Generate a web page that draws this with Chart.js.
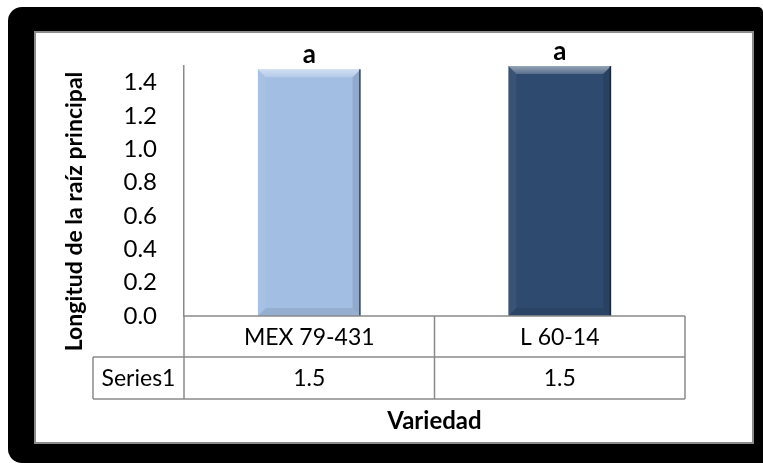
<!DOCTYPE html>
<html>
<head>
<meta charset="utf-8">
<script src="https://cdn.jsdelivr.net/npm/chart.js@4/dist/chart.umd.min.js"></script>
<style>
  html, body { margin: 0; padding: 0; background: #ffffff; }
  #wrap { width: 763px; height: 463px; }
</style>
</head>
<body>
<div id="wrap"><canvas id="chart" width="763" height="463"></canvas></div>
<script>
// Root length per sugarcane variety
const categories = ['MEX 79-431', 'L 60-14'];
const seriesName = 'Series1';
const values = [1.48, 1.5];
const letters = ['a', 'a'];
const yTicks = [0.0, 0.2, 0.4, 0.6, 0.8, 1.0, 1.2, 1.4];
const barColors = ['#a2bee3', '#2e4a6e'];
const yTitle = 'Longitud de la raíz principal';
const xTitle = 'Variedad';

const FONT = 'Lato, "Open Sans", sans-serif';
const LINE = '#8a8a8a';

// Black rounded frame with the white panel inside
const framePlugin = {
  id: 'frame',
  beforeDraw(chart) {
    const ctx = chart.ctx;
    ctx.save();
    ctx.fillStyle = '#ffffff';
    ctx.fillRect(0, 0, chart.width, chart.height);
    ctx.fillStyle = '#000000';
    ctx.beginPath();
    ctx.roundRect(8, 7, 755, 456, [14, 5, 0, 14]);
    ctx.fill();
    ctx.fillStyle = '#ffffff';
    ctx.fillRect(35, 32, 718, 411);
    ctx.strokeStyle = '#8c8c8c';
    ctx.lineWidth = 2;
    ctx.strokeRect(35, 32, 718, 411);
    ctx.restore();
  }
};

// Bevelled look on each bar, drawn over the bar rectangles
const bevelPlugin = {
  id: 'bevel',
  afterDatasetsDraw(chart) {
    const ctx = chart.ctx;
    const meta = chart.getDatasetMeta(0);
    meta.data.forEach((bar) => {
      const l = bar.x - bar.width / 2, r = bar.x + bar.width / 2;
      const t = bar.y, b = bar.base, s = 8;
      ctx.save();
      const g = ctx.createLinearGradient(0, t, 0, t + s);
      g.addColorStop(0, 'rgba(255,255,255,0.5)');
      g.addColorStop(1, 'rgba(255,255,255,0.2)');
      ctx.fillStyle = g;
      ctx.beginPath();
      ctx.moveTo(l, t); ctx.lineTo(r, t); ctx.lineTo(r - s, t + s); ctx.lineTo(l + s, t + s); ctx.closePath();
      ctx.fill();
      ctx.fillStyle = 'rgba(255,255,255,0.05)';
      ctx.beginPath();
      ctx.moveTo(l, t); ctx.lineTo(l + s, t + s); ctx.lineTo(l + s, b - s); ctx.lineTo(l, b); ctx.closePath();
      ctx.fill();
      ctx.fillStyle = 'rgba(0,0,0,0.1)';
      ctx.beginPath();
      ctx.moveTo(r, t); ctx.lineTo(r - s, t + s); ctx.lineTo(r - s, b - s); ctx.lineTo(r, b); ctx.closePath();
      ctx.fill();
      ctx.fillStyle = 'rgba(0,0,0,0.08)';
      ctx.beginPath();
      ctx.moveTo(l, b); ctx.lineTo(l + s, b - s); ctx.lineTo(r - s, b - s); ctx.lineTo(r, b); ctx.closePath();
      ctx.fill();
      ctx.strokeStyle = 'rgba(20,30,45,0.7)';
      ctx.lineWidth = 1.5;
      ctx.beginPath();
      ctx.moveTo(r - 0.75, t); ctx.lineTo(r - 0.75, b);
      ctx.stroke();
      ctx.restore();
    });
  }
};

// Significance letters, data table and axis titles
const annotatePlugin = {
  id: 'annotate',
  afterDraw(chart) {
    const ctx = chart.ctx;
    const area = chart.chartArea;
    const xs = chart.scales.x;
    const meta = chart.getDatasetMeta(0);
    ctx.save();

    // letters above bars
    ctx.fillStyle = '#000000';
    ctx.font = 'bold 26px ' + FONT;
    ctx.textAlign = 'center';
    ctx.textBaseline = 'alphabetic';
    meta.data.forEach((bar, i) => {
      ctx.fillText(letters[i], bar.x, bar.y - 6);
    });

    // data table under the axis
    const colW = xs.width / categories.length;
    const y0 = area.bottom, y1 = y0 + 41, y2 = y1 + 42;
    const legendLeft = 93;
    ctx.strokeStyle = LINE;
    ctx.lineWidth = 1.5;
    ctx.beginPath();
    ctx.moveTo(area.left, y0); ctx.lineTo(area.right, y0);
    ctx.moveTo(legendLeft, y1); ctx.lineTo(area.right, y1);
    ctx.moveTo(legendLeft, y2); ctx.lineTo(area.right, y2);
    ctx.moveTo(legendLeft, y1); ctx.lineTo(legendLeft, y2);
    for (let i = 0; i <= categories.length; i++) {
      const xx = area.left + i * colW;
      ctx.moveTo(xx, y0); ctx.lineTo(xx, y2);
    }
    ctx.stroke();

    ctx.font = '23px ' + FONT;
    ctx.textBaseline = 'middle';
    ctx.fillStyle = '#000000';
    categories.forEach((c, i) => {
      const cx = xs.getPixelForValue(i);
      ctx.fillText(c, cx, (y0 + y1) / 2 + 1);
      ctx.fillText(values[i].toFixed(1), cx, (y1 + y2) / 2 + 1);
    });
    ctx.fillText(seriesName, (legendLeft + area.left) / 2, (y1 + y2) / 2 + 1);

    // axis titles
    ctx.font = 'bold 24px ' + FONT;
    ctx.fillText(xTitle, (area.left + area.right) / 2, 421);
    ctx.font = 'bold 23px ' + FONT;
    ctx.translate(75, (area.top + y1) / 2);
    ctx.rotate(-Math.PI / 2);
    ctx.fillText(yTitle, 0, 0);
    ctx.restore();
  }
};

new Chart(document.getElementById('chart'), {
  type: 'bar',
  data: {
    labels: categories,
    datasets: [{
      label: seriesName,
      data: values,
      backgroundColor: barColors,
      borderWidth: 0,
      categoryPercentage: 1.0,
      barPercentage: 0.41
    }]
  },
  options: {
    responsive: false,
    animation: false,
    devicePixelRatio: 1,
    layout: { padding: { left: 0, top: 66, right: 78, bottom: 0 } },
    plugins: {
      legend: { display: false },
      tooltip: { enabled: false }
    },
    scales: {
      x: {
        grid: { display: false },
        border: { display: false },
        ticks: { display: false },
        afterFit(scale) { scale.height = 147; }
      },
      y: {
        min: 0,
        max: 1.5,
        grid: { display: false, drawTicks: false },
        border: { display: true, color: LINE, width: 1.5 },
        afterBuildTicks(scale) { scale.ticks = yTicks.map(v => ({ value: v })); },
        afterFit(scale) { scale.width = 184; },
        ticks: {
          padding: 27,
          color: '#000000',
          font: { family: FONT, size: 24 },
          callback: (v) => Number(v).toFixed(1)
        }
      }
    }
  },
  plugins: [framePlugin, bevelPlugin, annotatePlugin]
});
</script>
</body>
</html>
